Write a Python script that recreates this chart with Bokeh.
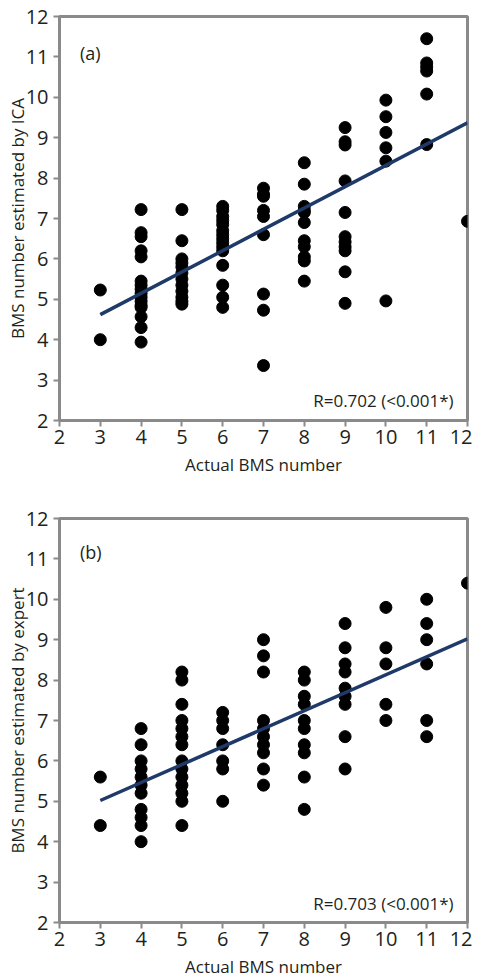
from bokeh.plotting import figure
from bokeh.layouts import column
from bokeh.models import Label, FixedTicker, Range1d
from bokeh.embed import file_html
from bokeh.resources import INLINE

# ---------------- data ----------------
tick_values = [2, 3, 4, 5, 6, 7, 8, 9, 10, 11, 12]
actual_bms = [3, 4, 5, 6, 7, 8, 9, 10, 11, 12]

# (a) BMS number estimated by ICA, one list per actual BMS number
ica_estimates = [
    [5.23, 4.0],
    [7.22, 6.65, 6.55, 6.2, 6.05, 5.45, 5.35, 5.25, 5.15, 5.05, 4.95, 4.85, 4.8, 4.57, 4.3, 3.94],
    [7.22, 6.45, 6.0, 5.9, 5.8, 5.65, 5.5, 5.35, 5.2, 5.05, 4.95, 4.88],
    [7.3, 7.2, 7.05, 6.95, 6.85, 6.7, 6.6, 6.5, 6.4, 6.3, 6.2, 5.84, 5.35, 5.05, 4.8],
    [7.75, 7.6, 7.55, 7.2, 7.05, 6.6, 5.13, 4.73, 3.36],
    [8.38, 7.85, 7.3, 7.2, 7.15, 6.9, 6.45, 6.3, 6.05, 5.95, 5.45],
    [9.25, 8.9, 8.82, 7.93, 7.15, 6.55, 6.42, 6.3, 6.2, 5.68, 4.9],
    [9.93, 9.52, 9.13, 8.75, 8.42, 4.96],
    [11.45, 10.85, 10.75, 10.65, 10.08, 8.83],
    [6.93],
]

# (b) BMS number estimated by expert
expert_estimates = [
    [5.6, 4.4],
    [6.8, 6.4, 6.0, 5.8, 5.6, 5.4, 5.2, 4.8, 4.6, 4.4, 4.0],
    [8.2, 8.0, 7.4, 7.0, 6.8, 6.6, 6.4, 6.0, 5.8, 5.6, 5.4, 5.2, 5.0, 4.4],
    [7.2, 7.0, 6.8, 6.4, 6.0, 5.8, 5.0],
    [9.0, 8.6, 8.2, 7.0, 6.8, 6.6, 6.4, 6.2, 5.8, 5.4],
    [8.2, 8.0, 7.6, 7.4, 7.0, 6.8, 6.4, 6.2, 5.6, 4.8],
    [9.4, 8.8, 8.4, 8.2, 7.8, 7.6, 7.4, 6.6, 5.8],
    [9.8, 8.8, 8.4, 7.4, 7.0],
    [10.0, 9.4, 9.0, 8.4, 7.0, 6.6],
    [10.4],
]

fit_x = [3, 12]
ica_fit_y = [4.62, 9.37]
expert_fit_y = [5.02, 9.02]

panel_tags = ["(a)", "(b)"]
r_texts = ["R=0.702 (<0.001*)", "R=0.703 (<0.001*)"]
y_titles = ["BMS number estimated by ICA", "BMS number estimated by expert"]
x_title = "Actual BMS number"

# ---------------- styling ----------------
FONT = "Open Sans"
TEXT = "#231f20"
GREY = "#8a8a8a"
LINE = "#1f3a68"


def make_panel(estimates, fit_y, tag, rtext, ytitle, bottom, tag_y, r_y):
    xs, ys = [], []
    for a, vals in zip(actual_bms, estimates):
        for v in vals:
            xs.append(a)
            ys.append(v)

    p = figure(frame_width=408, frame_height=404,
               x_range=Range1d(2, 12), y_range=Range1d(2, 12),
               min_border_left=59, min_border_right=5,
               min_border_top=16, min_border_bottom=bottom,
               toolbar_location=None, output_backend="svg",
               outline_line_color=GREY, outline_line_width=3,
               background_fill_color="white", border_fill_color="white")
    p.xgrid.visible = False
    p.ygrid.visible = False

    for ax in (p.xaxis[0], p.yaxis[0]):
        ax.ticker = FixedTicker(ticks=tick_values)
        ax.axis_line_color = GREY
        ax.axis_line_width = 3
        ax.major_tick_line_color = GREY
        ax.major_tick_line_width = 2
        ax.major_tick_out = 6
        ax.major_tick_in = 0
        ax.minor_tick_out = 0
        ax.minor_tick_in = 0
        ax.major_label_text_font = FONT
        ax.major_label_text_font_size = "20px"
        ax.major_label_text_color = TEXT
        ax.axis_label_text_font = FONT
        ax.axis_label_text_font_size = "17px"
        ax.axis_label_text_font_style = "normal"
        ax.axis_label_text_color = TEXT

    p.xaxis.axis_label = x_title
    p.xaxis.major_label_standoff = 3
    p.xaxis.axis_label_standoff = 6
    p.yaxis.axis_label = ytitle
    p.yaxis.major_label_standoff = 5
    p.yaxis.axis_label_standoff = -6

    p.scatter(xs, ys, size=12, color="black")
    p.line(fit_x, fit_y, line_color=LINE, line_width=3.5)

    p.add_layout(Label(x=2.5, y=tag_y, text=tag, text_baseline="middle",
                       text_font=FONT, text_font_size="18px", text_color=TEXT))
    p.add_layout(Label(x=11.66, y=r_y, text=rtext, text_align="right",
                       text_baseline="middle", text_font=FONT,
                       text_font_size="17px", text_color=TEXT))
    return p


p1 = make_panel(ica_estimates, ica_fit_y, panel_tags[0], r_texts[0], y_titles[0],
                82, 11.1, 2.5)
p2 = make_panel(expert_estimates, expert_fit_y, panel_tags[1], r_texts[1], y_titles[1],
                56, 11.17, 2.48)

layout = column(p1, p2)
open("out.html", "w").write(file_html(layout, INLINE))
